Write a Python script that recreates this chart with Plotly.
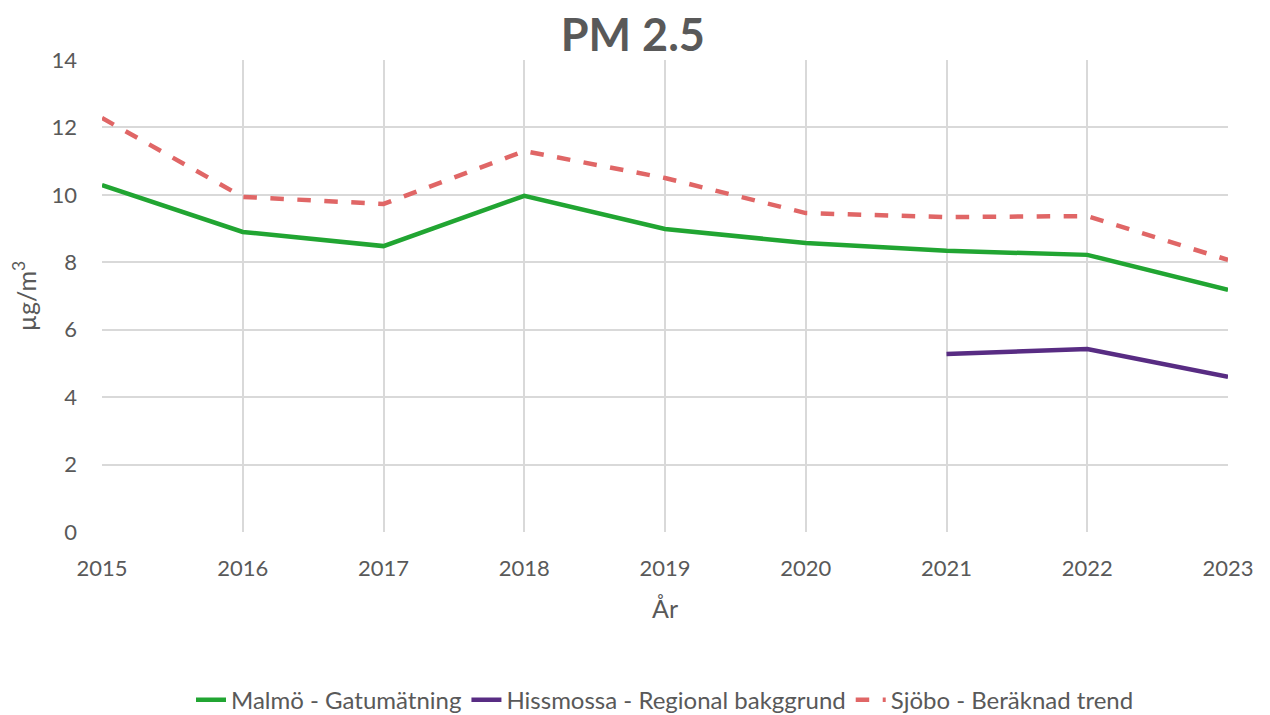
import plotly.graph_objects as go

years = [2015, 2016, 2017, 2018, 2019, 2020, 2021, 2022, 2023]
malmo = [10.29, 8.9, 8.48, 9.97, 8.99, 8.57, 8.34, 8.22, 7.18]
hiss_years = [2021, 2022, 2023]
hissmossa = [5.28, 5.43, 4.6]
sjobo = [12.28, 9.94, 9.73, 11.3, 10.5, 9.46, 9.34, 9.37, 8.07]

FONT = "Lato, Open Sans, sans-serif"
GREY = "#595959"

fig = go.Figure()
fig.add_trace(go.Scatter(x=years, y=malmo, mode="lines", name="Malmö - Gatumätning",
                         line=dict(color="#21A532", width=4.5)))
fig.add_trace(go.Scatter(x=hiss_years, y=hissmossa, mode="lines", name="Hissmossa - Regional bakggrund",
                         line=dict(color="#582C83", width=4.5)))
fig.add_trace(go.Scatter(x=years, y=sjobo, mode="lines", name="Sjöbo - Beräknad trend",
                         line=dict(color="#E06666", width=4.5, dash="dash")))

fig.update_layout(
    width=1270, height=715,
    paper_bgcolor="white", plot_bgcolor="white",
    margin=dict(l=94, r=50, t=52, b=191, autoexpand=False),
    title=dict(text="<b>PM 2.5</b>", x=0.492, xanchor="center", y=0.962, yanchor="middle",
               font=dict(family=FONT, size=45, color=GREY)),
    font=dict(family=FONT, color=GREY),
    xaxis=dict(range=[2015, 2023], tickmode="array", tickvals=years, ticktext=[str(y) for y in years],
               showgrid=True, gridcolor="#d9d9d9", gridwidth=1.5, zeroline=False, automargin=False,
               tickfont=dict(size=22, color=GREY), ticks="", ticklabelstandoff=21,
               title=dict(text="År", font=dict(size=25, color=GREY), standoff=20)),
    yaxis=dict(range=[0, 14], dtick=2, showgrid=True, gridcolor="#d9d9d9", gridwidth=1.5,
               zeroline=False, automargin=False, tickfont=dict(size=22, color=GREY), ticks="",
               ticklabelstandoff=24,
               title=dict(text="µg/m<sup>3</sup>", font=dict(size=25, color=GREY), standoff=10)),
    legend=dict(orientation="h", x=0.5, xanchor="center", y=-0.356, yanchor="middle",
                font=dict(size=24, color=GREY), traceorder="normal"),
    showlegend=True,
)

fig.write_html("out.html")
